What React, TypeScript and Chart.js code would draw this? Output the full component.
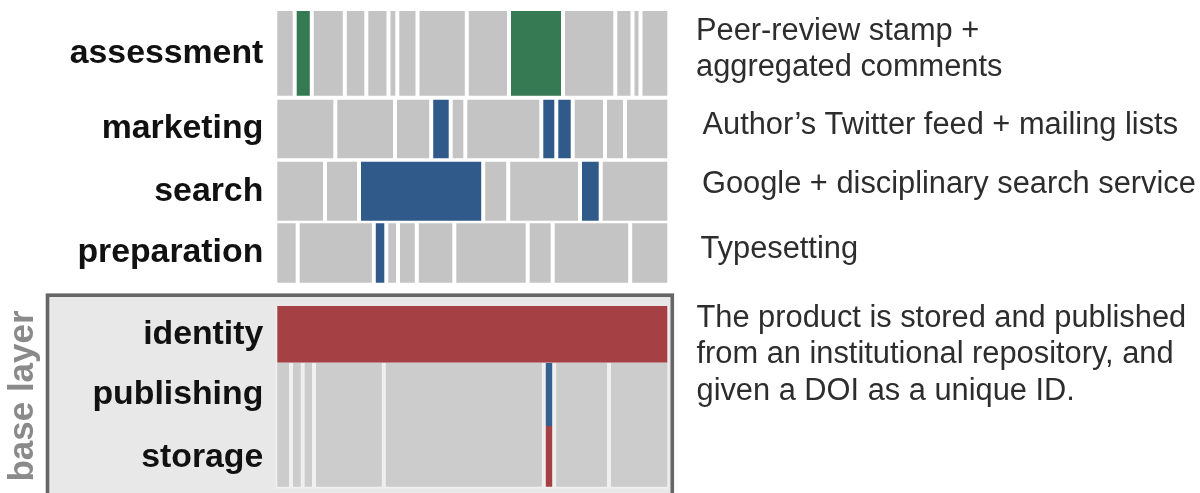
import React, { useEffect, useRef } from 'react';
import { Chart, registerables } from 'chart.js';

Chart.register(...registerables);

// ---------- data ----------
const rowLabels = ['assessment', 'marketing', 'search', 'preparation', 'identity', 'publishing', 'storage'];

const assessmentWidths = [19.4, 17.1, 33, 21.5, 22.2, 8.8, 20.2, 49.3, 42.2, 54, 52.3, 17.2, 8, 28.8];
const assessmentMarked = [1, 9];
const marketingWidths = [60, 59.7, 36.2, 19.5, 14.6, 76, 15, 16.4, 32.3, 20, 44.3];
const marketingMarked = [3, 6, 7];
const searchWidths = [49.7, 34, 124.2, 25, 71.8, 20.7, 68.6];
const searchMarked = [2, 5];
const preparationWidths = [22.4, 76.1, 12.5, 11.7, 18.8, 37.5, 73.4, 25, 77.5, 39.1];
const preparationMarked = [2];
const identityWidths = [394];
const identityMarked = [0];
const publishingWidths = [15.7, 11.7, 11.3, 69.8, 160, 10.4, 54.8, 60.3];
const publishingMarked = [5];
const storageWidths = [15.7, 11.7, 11.3, 69.8, 160, 10.4, 54.8, 60.3];
const storageMarked = [5];

const baseLayerTitle = 'base layer';

const noteTexts = [
  ['Peer-review stamp +', 'aggregated comments'],
  ['Author\u2019s Twitter feed + mailing lists'],
  ['Google + disciplinary search service'],
  ['Typesetting'],
  ['The product is stored and published', 'from an institutional repository, and', 'given a DOI as a unique ID.'],
];

// ---------- layout / style ----------
const FONT = "'Liberation Sans', Arial, Helvetica, sans-serif";
const W = 1200;
const H = 493;
const AXIS_WIDTH = 275.3;
const PLOT_RIGHT = 669.3;
const X_MAX = 394;

const rowCenter = [53.3, 129, 191.2, 253, 334.35, 394.35, 457.35];
const rowThickness = [88.7, 62.6, 63, 63.4, 56.7, 63.3, 62.7];
const rowIsBase = [false, false, false, false, true, true, true];
const markColor = ['#357a52', '#2f5a8a', '#2f5a8a', '#2f5a8a', '#a54044', '#36608f', '#a54044'];
const grayTop = '#c4c4c4';
const grayBase = '#cccccc';

const noteX = [696, 702.5, 702, 700.5, 696.5];
const noteBaseline = [40, 134.3, 193, 258, 327];
const noteLineHeight = 36.3;

const rows = [
  { widths: assessmentWidths, marked: assessmentMarked },
  { widths: marketingWidths, marked: marketingMarked },
  { widths: searchWidths, marked: searchMarked },
  { widths: preparationWidths, marked: preparationMarked },
  { widths: identityWidths, marked: identityMarked },
  { widths: publishingWidths, marked: publishingMarked },
  { widths: storageWidths, marked: storageMarked },
];

const datasets = rows.map((r, i) => {
  let acc = 0;
  const data = r.widths.map((w) => {
    const d = { y: rowCenter[i], x: [acc, acc + w] };
    acc += w;
    return d;
  });
  const base = rowIsBase[i];
  return {
    label: rowLabels[i],
    data,
    backgroundColor: r.widths.map((_, j) => (r.marked.includes(j) ? markColor[i] : base ? grayBase : grayTop)),
    borderColor: base ? '#f0f0f0' : '#ffffff',
    borderWidth: base
      ? { left: 2, right: 2, top: 0, bottom: i === 6 ? 2 : 0 }
      : 2,
    borderSkipped: false,
    barThickness: rowThickness[i],
    grouped: false,
    inflateAmount: 0,
  };
});

const decorPlugin = {
  id: 'decor',
  beforeDraw(chart: any) {
    const ctx = chart.ctx;
    const y = chart.scales.y;
    ctx.save();
    // base layer box
    const top = y.getPixelForValue(295.2);
    ctx.fillStyle = '#e8e8e8';
    ctx.fillRect(47.5, top, 672.3 - 47.5, H - top + 20);
    ctx.strokeStyle = '#666666';
    ctx.lineWidth = 3.6;
    ctx.strokeRect(47.5, top, 672.3 - 47.5, H - top + 20);
    // rotated title
    ctx.translate(33.3, y.getPixelForValue(396));
    ctx.rotate(-Math.PI / 2);
    ctx.fillStyle = '#8a8a8a';
    ctx.font = `bold 35px ${FONT}`;
    ctx.textAlign = 'center';
    ctx.textBaseline = 'alphabetic';
    ctx.fillText(baseLayerTitle, 0, 0);
    ctx.restore();
  },
  afterDraw(chart: any) {
    const ctx = chart.ctx;
    const y = chart.scales.y;
    ctx.save();
    ctx.fillStyle = '#2d2d2d';
    ctx.font = `30.8px ${FONT}`;
    ctx.textAlign = 'left';
    ctx.textBaseline = 'alphabetic';
    noteTexts.forEach((lines, i) => {
      lines.forEach((t, k) => {
        ctx.fillText(t, noteX[i], y.getPixelForValue(noteBaseline[i] + k * noteLineHeight));
      });
    });
    ctx.restore();
  },
};

export default function App() {
  const ref = useRef<HTMLCanvasElement>(null);
  useEffect(() => {
    if (!ref.current) return;
    const chart = new Chart(ref.current, {
      type: 'bar',
      data: { datasets: datasets as any },
      options: {
        indexAxis: 'y',
        animation: false,
        responsive: false,
        devicePixelRatio: 1,
        events: [],
        layout: { autoPadding: false, padding: { left: 0, right: W - PLOT_RIGHT, top: 0, bottom: 0 } },
        plugins: { legend: { display: false }, tooltip: { enabled: false }, title: { display: false } },
        scales: {
          x: { type: 'linear', min: 0, max: X_MAX, display: false, offset: false },
          y: {
            type: 'linear',
            reverse: true,
            offset: false,
            min: 0,
            max: H,
            grid: { display: false, drawTicks: false, offset: false },
            border: { display: false },
            ticks: {
              autoSkip: false,
              padding: 12,
              color: '#111111',
              font: { family: FONT, size: 33.8, weight: 'bold' },
              callback: (_v: any, i: number) => rowLabels[i] ?? '',
            },
            afterBuildTicks: (s: any) => {
              s.ticks = rowCenter.map((v) => ({ value: v }));
            },
            afterFit: (s: any) => {
              s.width = AXIS_WIDTH;
              s.paddingTop = 0;
              s.paddingBottom = 0;
            },
          },
        },
      } as any,
      plugins: [decorPlugin],
    });
    return () => chart.destroy();
  }, []);
  return (
    <div style={{ position: 'fixed', left: 0, top: 0, width: W, height: H, background: '#ffffff' }}>
      <canvas ref={ref} width={W} height={H} style={{ display: 'block' }} />
    </div>
  );
}
